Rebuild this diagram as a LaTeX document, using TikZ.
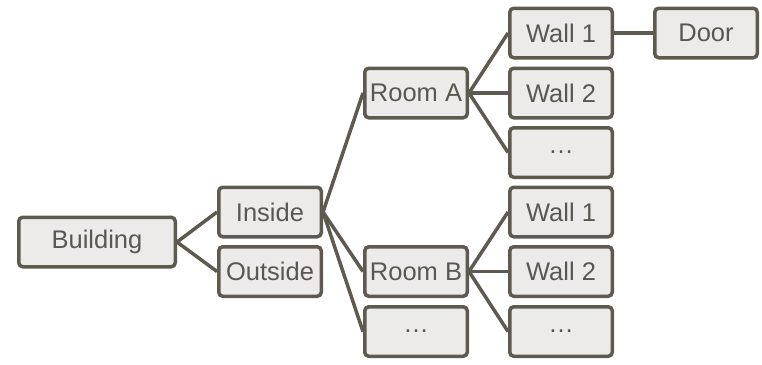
\documentclass[tikz,border=0pt]{standalone}
\usepackage{fontspec}
\setmainfont{Liberation Sans}
\definecolor{edge}{HTML}{5E5A50}
\definecolor{boxfill}{HTML}{EDEBE9}
\definecolor{txt}{HTML}{5A5750}
\begin{document}
\begin{tikzpicture}[x=1pt,y=-1pt,
  box/.style={draw=edge, fill=boxfill, line width=3.5pt, rounded corners=4pt,
    minimum width=102.5pt, minimum height=49.5pt, inner sep=0pt,
    text=txt, font=\fontsize{25.5}{30}\selectfont},
  wide/.style={box, minimum width=156.5pt},
  link/.style={draw=edge, line width=3.5pt}]
\useasboundingbox (0,0) rectangle (762,364);
\node[wide] (building) at (97,242) {Building};
\node[box] (inside) at (270,212) {Inside};
\node[box] (outside) at (270,271.5) {Outside};
\node[box] (rooma) at (416,93) {Room A};
\node[box] (roomb) at (416,271.5) {Room B};
\node[box] (moreroom) at (416,331.5) {…};
\node[box] (wa1) at (561,33) {Wall 1};
\node[box] (wa2) at (561,93) {Wall 2};
\node[box] (wa3) at (561,152.5) {…};
\node[box] (door) at (706,33) {Door};
\node[box] (wb1) at (561,212) {Wall 1};
\node[box] (wb2) at (561,271.5) {Wall 2};
\node[box] (wb3) at (561,331.5) {…};
\path[link] (building.east) -- (inside.west);
\path[link] (building.east) -- (outside.west);
\path[link] (inside.east) -- (rooma.west);
\path[link] (inside.east) -- (roomb.west);
\path[link] (inside.east) -- (moreroom.west);
\path[link] (rooma.east) -- (wa1.west);
\path[link] (rooma.east) -- (wa2.west);
\path[link] (rooma.east) -- (wa3.west);
\path[link] (wa1.east) -- (door.west);
\path[link] (roomb.east) -- (wb1.west);
\path[link] (roomb.east) -- (wb2.west);
\path[link] (roomb.east) -- (wb3.west);
\end{tikzpicture}
\end{document}
